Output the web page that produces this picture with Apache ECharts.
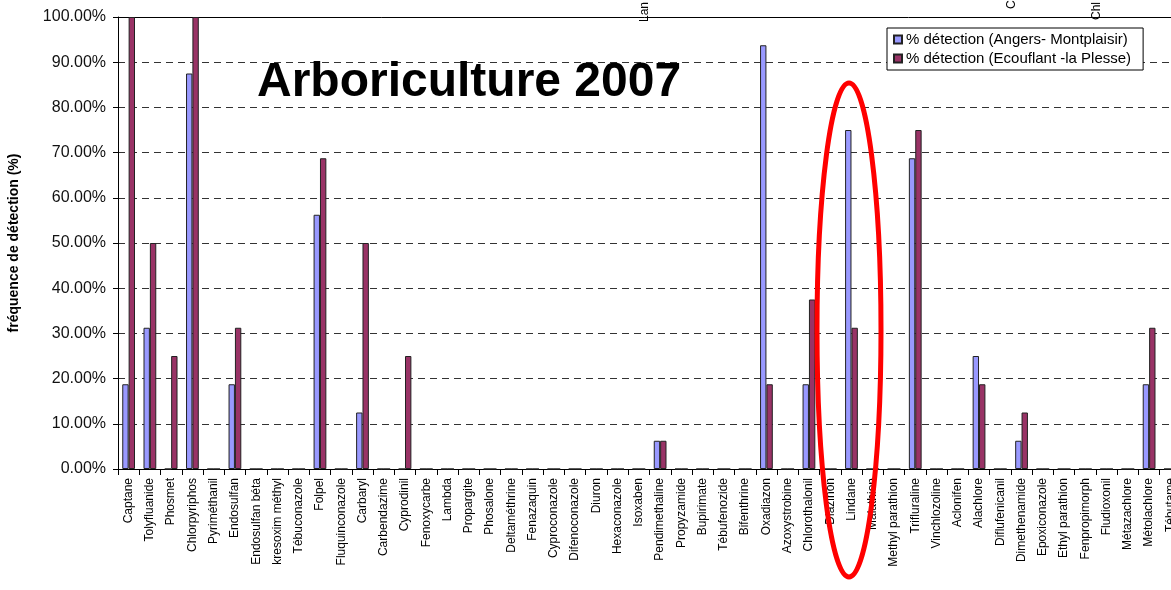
<!DOCTYPE html>
<html><head><meta charset="utf-8">
<script src="https://cdn.jsdelivr.net/npm/echarts@6/dist/echarts.min.js"></script>
<style>html,body{margin:0;padding:0;background:#fff}#c{width:1171px;height:590px}</style>
</head><body><div id="c"></div>
<script>
const categories = ['Captane','Tolyfluanide','Phosmet','Chlorpyriphos','Pyriméthanil','Endosulfan','Endosulfan béta','kresoxim méthyl','Tébuconazole','Folpel','Fluquinconazole','Carbaryl','Carbendazime','Cyprodinil','Fenoxycarbe','Lambda','Propargite','Phosalone','Deltaméthrine','Fenazaquin','Cyproconazole','Difenoconazole','Diuron','Hexaconazole','Isoxaben','Pendimethaline','Propyzamide','Bupirimate','Tébufenozide','Bifenthrine','Oxadiazon','Azoxystrobine','Chlorothalonil','Diazinon','Lindane','Malathion','Methyl parathion','Trifluraline','Vinchlozoline','Aclonifen','Alachlore','Diflufenicanil','Dimethenamide','Epoxiconazole','Ethyl parathion','Fenpropimorph','Fludioxonil','Métazachlore','Métolachlore','Tébutame'];
const angers    = [18.75,31.25,0,87.5,0,18.75,0,0,0,56.25,0,12.5,0,0,0,0,0,0,0,0,0,0,0,0,0,6.25,0,0,0,0,93.75,0,18.75,0,75,0,0,68.75,0,0,25,0,6.25,0,0,0,0,0,18.75,0];
const ecouflant = [100,50,25,100,0,31.25,0,0,0,68.75,0,50,0,25,0,0,0,0,0,0,0,0,0,0,0,6.25,0,0,0,0,18.75,0,37.5,0,31.25,0,0,75,0,0,18.75,0,12.5,0,0,0,0,0,31.25,0];
const seriesNames = ['% détection (Angers- Montplaisir)','% détection (Ecouflant -la Plesse)'];
const titleText = 'Arboriculture 2007';
const yAxisName = 'fréquence de détection (%)';
const topFragments = ['Lan','Ch','Chl'];

const FONT = '"Liberation Sans", Arial, sans-serif';
const chart = echarts.init(document.getElementById('c'), null, {renderer:'canvas'});
chart.setOption({
  animation:false,
  backgroundColor:'#fff',
  grid:{left:118, top:17, bottom:121, right:-10, outerBoundsMode:'none', containLabel:false},
  legend:{
    left:887, top:28, orient:'vertical', icon:'rect',
    itemWidth:8, itemHeight:8, itemGap:4,
    padding:[4,12,4,6],
    borderColor:'#000', borderWidth:1, backgroundColor:'#fff',
    textStyle:{fontFamily:FONT, fontSize:15, color:'#000', padding:[0,0,0,-1]},
    data:seriesNames
  },
  xAxis:[{
    type:'category', data:categories, position:'bottom',
    axisLine:{lineStyle:{color:'#000', width:1}},
    axisTick:{show:true, length:6, inside:false, alignWithLabel:false, lineStyle:{color:'#000'}},
    axisLabel:{interval:0, rotate:90, margin:9, fontFamily:FONT, fontSize:12, color:'#000'},
    splitLine:{show:false}
  },{
    type:'category', data:categories, position:'top',
    axisLine:{show:true, lineStyle:{color:'#000', width:1}},
    axisTick:{show:false}, axisLabel:{show:false}, splitLine:{show:false}
  }],
  yAxis:{
    type:'value', min:0, max:100, interval:10,
    name:yAxisName, nameLocation:'middle', nameGap:97, nameRotate:90,
    nameTextStyle:{fontFamily:FONT, fontSize:14, fontWeight:'bold', color:'#000'},
    axisLine:{show:true, lineStyle:{color:'#000'}},
    axisTick:{show:true, length:5, lineStyle:{color:'#000'}},
    axisLabel:{fontFamily:FONT, fontSize:16, color:'#111', margin:12, formatter:v=>v.toFixed(2)+'%'},
    splitLine:{show:true, lineStyle:{color:'#333', type:[7,5], width:1}}
  },
  series:[{
    name:seriesNames[0], type:'bar', data:angers, barWidth:'30%', barGap:'0%',
    itemStyle:{color:'#9999FF', borderColor:'#222', borderWidth:1}
  },{
    name:seriesNames[1], type:'bar', data:ecouflant, barWidth:'30%', barGap:'0%',
    itemStyle:{color:'#993366', borderColor:'#222', borderWidth:1}
  }],
  graphic:[
    {type:'text', left:257, top:59, z:100, style:{text:titleText, fontFamily:FONT, fontSize:48, fontWeight:'bold', fill:'#000'}},
    {type:'text', x:645, y:22, rotation:Math.PI/2, style:{text:topFragments[0], fontFamily:FONT, fontSize:12, fill:'#000', textAlign:'left', textVerticalAlign:'middle'}},
    {type:'text', x:1012, y:9, rotation:Math.PI/2, style:{text:topFragments[1], fontFamily:FONT, fontSize:12, fill:'#000', textAlign:'left', textVerticalAlign:'middle'}},
    {type:'text', x:1097, y:20, rotation:Math.PI/2, style:{text:topFragments[2], fontFamily:FONT, fontSize:12, fill:'#000', textAlign:'left', textVerticalAlign:'middle'}},
    {type:'ellipse', z:200, shape:{cx:849, cy:330, rx:32, ry:247}, style:{fill:null, stroke:'#ff0000', lineWidth:5}}
  ]
});
</script></body></html>
